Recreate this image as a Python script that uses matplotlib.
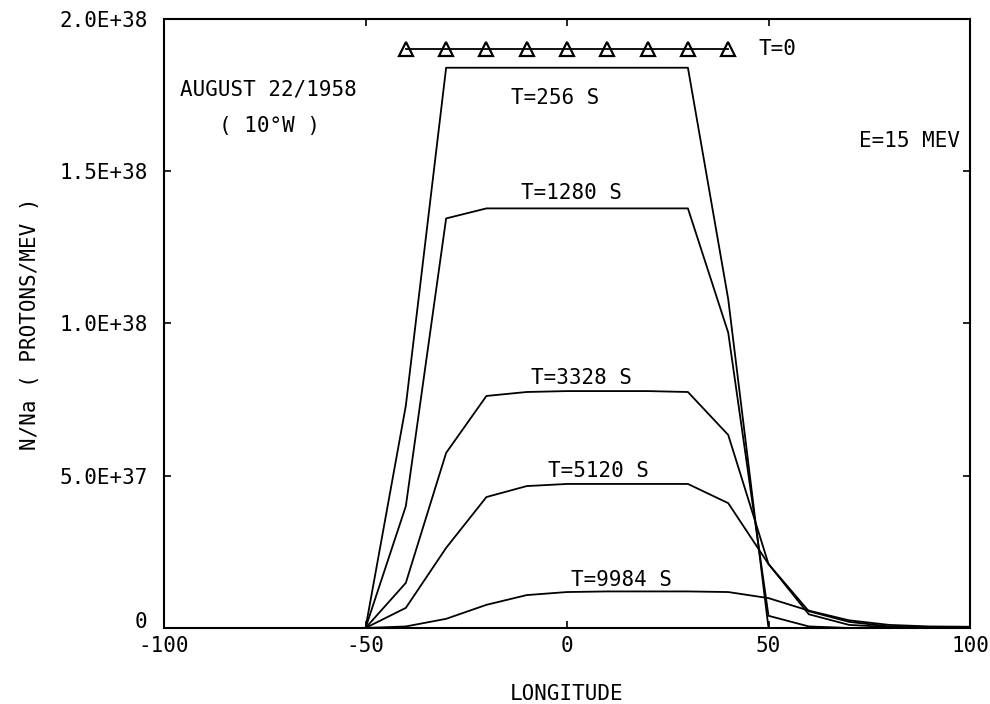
import matplotlib.pyplot as plt
from matplotlib.transforms import ScaledTranslation

# longitude grid (degrees) shared by every curve
lon = [-100, -90, -80, -70, -60, -50, -40, -30, -20, -10, 0,
       10, 20, 30, 40, 50, 60, 70, 80, 90, 100]

# N/Na in units of 1e38 protons/MeV
t0_lon = [-40, -30, -20, -10, 0, 10, 20, 30, 40]
t0_val = [1.90] * 9
t256 = [0, 0, 0, 0, 0, 0, 0.73, 1.84, 1.84, 1.84, 1.84,
        1.84, 1.84, 1.84, 1.08, 0.0, 0, 0, 0, 0, 0]
t1280 = [0, 0, 0, 0, 0, 0, 0.40, 1.345, 1.378, 1.378, 1.378,
         1.378, 1.378, 1.378, 0.97, 0.04, 0.005, 0, 0, 0, 0]
t3328 = [0, 0, 0, 0, 0, 0, 0.148, 0.575, 0.762, 0.775, 0.778,
         0.778, 0.778, 0.775, 0.634, 0.21, 0.045, 0.01, 0.003, 0, 0]
t5120 = [0, 0, 0, 0, 0, 0, 0.066, 0.263, 0.43, 0.466, 0.473,
         0.473, 0.473, 0.473, 0.41, 0.21, 0.055, 0.02, 0.005, 0.002, 0.002]
t9984 = [0, 0, 0, 0, 0, 0, 0.005, 0.03, 0.076, 0.108, 0.118,
         0.12, 0.12, 0.12, 0.118, 0.098, 0.057, 0.025, 0.01, 0.005, 0.004]

curves = [("T=256 S", t256, (-3, 1.74)),
          ("T=1280 S", t1280, (1, 1.43)),
          ("T=3328 S", t3328, (3.7, 0.82)),
          ("T=5120 S", t5120, (7.7, 0.516)),
          ("T=9984 S", t9984, (13.6, 0.158))]

yticks = [0, 0.5e38, 1.0e38, 1.5e38, 2.0e38]
ytick_labels = ["0", "5.0E+37", "1.0E+38", "1.5E+38", "2.0E+38"]
xticks = [-100, -50, 0, 50, 100]

plt.rcParams["font.family"] = "DejaVu Sans Mono"
fs = 15

fig = plt.figure(figsize=(9.9, 7.04), dpi=100)
ax = fig.add_axes([0.1657, 0.108, 0.8141, 0.865])

scale = 1e38
ax.plot(t0_lon, [v * scale for v in t0_val], color="black", lw=1.3,
        marker="^", markersize=10, mfc="none", mec="black", mew=1.6)
ax.text(47.5, 1.9 * scale, "T=0", fontsize=fs, va="center", ha="left")

for label, vals, (tx, ty) in curves:
    ax.plot(lon, [v * scale for v in vals], color="black", lw=1.3)
    ax.text(tx, ty * scale, label, fontsize=fs, ha="center", va="center")

ax.text(-96, 1.77 * scale, "AUGUST 22/1958", fontsize=fs, va="center")
ax.text(-73.8, 1.65 * scale, "( 10°W )", fontsize=fs, ha="center", va="center")
ax.text(72.5, 1.6 * scale, "E=15 MEV", fontsize=fs, va="center")

ax.set_xlim(-100, 100)
ax.set_ylim(0, 2.0e38)
ax.set_xticks(xticks)
ax.set_xticklabels([str(v) for v in xticks])
ax.set_yticks(yticks)
ax.set_yticklabels(ytick_labels)
ax.tick_params(direction="in", length=5, width=1.2, top=True, right=True,
               labelsize=fs)
ax.tick_params(axis="y", pad=12)
ax.tick_params(axis="x", pad=6)
for s in ax.spines.values():
    s.set_linewidth(1.5)

# lift the "0" on the y axis clear of the "-100" below it
zero_lbl = ax.get_yticklabels()[0]
zero_lbl.set_transform(zero_lbl.get_transform()
                       + ScaledTranslation(0, 6 / 72, fig.dpi_scale_trans))

ax.set_xlabel("LONGITUDE", fontsize=fs, labelpad=20)
ax.set_ylabel("N/Na ( PROTONS/MEV )", fontsize=fs, labelpad=14)

fig.savefig("out.png", dpi=100)
